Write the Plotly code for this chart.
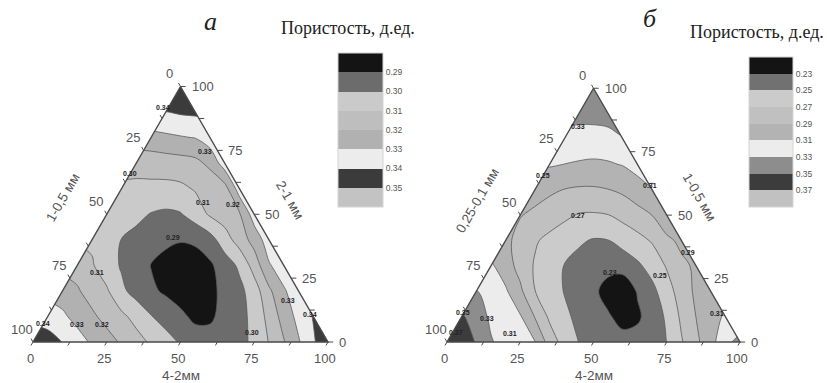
import math
import plotly.graph_objects as go

W, H_FIG = 827, 383
SQ = math.sqrt(3) / 2

# ---------------- data ----------------
# Porosity (fraction units).
# Row k = share of the apex component T = 0,10,...,100 ;
# values along the row at horizontal positions X = T/2 ... 100-T/2, step 5.
POR_A_ROWS = [
    [0.347, 0.3435, 0.3398, 0.3341, 0.3286, 0.3237, 0.3188, 0.3137, 0.3086, 0.3037, 0.2990,
     0.2945, 0.2935, 0.2950, 0.2980, 0.3015, 0.3105, 0.3193, 0.3290, 0.3388, 0.347],
    [0.3362, 0.3317, 0.3268, 0.3217, 0.3169, 0.3122, 0.3067, 0.3005, 0.2961, 0.2919,
     0.2880, 0.2885, 0.2930, 0.2970, 0.3027, 0.3133, 0.3239, 0.3330, 0.3405],
    [0.3254, 0.3210, 0.3162, 0.3112, 0.3021, 0.2963, 0.2917, 0.2885, 0.2860, 0.2855,
     0.2875, 0.2927, 0.2973, 0.3050, 0.3181, 0.3288, 0.3360],
    [0.3164, 0.3109, 0.3048, 0.2990, 0.2944, 0.2897, 0.2870, 0.2858, 0.2858, 0.2885,
     0.2948, 0.3019, 0.3143, 0.3290, 0.3355],
    [0.3085, 0.3040, 0.2998, 0.2970, 0.2945, 0.2918, 0.2905, 0.2915, 0.2960, 0.3055,
     0.3145, 0.3238, 0.3355],
    [0.3070, 0.3050, 0.3025, 0.2995, 0.2982, 0.2993, 0.3047, 0.3113, 0.3148, 0.3190, 0.3350],
    [0.3085, 0.3080, 0.3075, 0.3072, 0.3080, 0.3108, 0.3128, 0.3160, 0.3350],
    [0.3130, 0.3142, 0.3150, 0.3158, 0.3172, 0.3224, 0.3352],
    [0.3265, 0.3280, 0.3292, 0.3303, 0.3355],
    [0.3398, 0.3412, 0.3418],
    [0.347],
]

POR_B_ROWS = [
    [0.372, 0.3607, 0.3486, 0.3314, 0.3240, 0.3175, 0.3109, 0.2814, 0.2622, 0.2497, 0.2440,
     0.2390, 0.2390, 0.2395, 0.2430, 0.2502, 0.2682, 0.2854, 0.3033, 0.3237, 0.338],
    [0.353, 0.3392, 0.3268, 0.3192, 0.3117, 0.2890, 0.2663, 0.2538, 0.2457, 0.2396,
     0.2330, 0.2210, 0.2260, 0.2414, 0.2523, 0.2736, 0.2902, 0.3011, 0.313],
    [0.331, 0.3215, 0.3127, 0.2941, 0.2702, 0.2595, 0.2493, 0.2424, 0.2355, 0.2200,
     0.2120, 0.2320, 0.2447, 0.2609, 0.2798, 0.2935, 0.298],
    [0.313, 0.2996, 0.2828, 0.2681, 0.2586, 0.2495, 0.2440, 0.2395, 0.2380, 0.2395,
     0.2465, 0.2572, 0.2718, 0.2872, 0.292],
    [0.295, 0.283, 0.2722, 0.265, 0.2588, 0.2525, 0.2485, 0.2495, 0.256, 0.2634,
     0.2718, 0.287, 0.293],
    [0.291, 0.2859, 0.2800, 0.2741, 0.2685, 0.268, 0.2695, 0.2761, 0.2831, 0.2902, 0.300],
    [0.298, 0.2935, 0.2895, 0.2875, 0.2875, 0.2895, 0.2935, 0.3005, 0.309],
    [0.312, 0.3098, 0.308, 0.307, 0.308, 0.311, 0.318],
    [0.324, 0.322, 0.321, 0.323, 0.329],
    [0.336, 0.337, 0.338],
    [0.345],
]

LEVELS_A = [0.29, 0.30, 0.31, 0.32, 0.33, 0.34, 0.35]
LEVELS_B = [0.23, 0.25, 0.27, 0.29, 0.31, 0.33, 0.35, 0.37]
# band colours from the lowest porosity band to the highest
COLORS_A = ["#141414", "#6c6c6c", "#cacaca", "#bebebe", "#b1b1b1", "#ececec", "#3b3b3b", "#c3c3c3"]
COLORS_B = ["#141414", "#717171", "#cbcbcb", "#c0c0c0", "#b3b3b3", "#ececec", "#8d8d8d", "#3c3c3c", "#c1c1c1"]

# contour-line labels as printed in the figure: (text, share along bottom axis X, apex share T)
LABELS_A = [("0.34", 44.1, 91.8), ("0.33", 58.3, 74.7), ("0.30", 32.9, 65.8),
            ("0.31", 57.6, 54.5), ("0.32", 67.8, 53.7), ("0.29", 47.5, 40.9),
            ("0.31", 21.7, 27.2), ("0.33", 86.4, 16.3), ("0.34", 93.9, 10.9),
            ("0.34", 3.3, 7.4), ("0.33", 14.9, 7.0), ("0.32", 23.4, 7.0), ("0.30", 74.2, 3.9)]
LABELS_B = [("0.33", 44.7, 85.0), ("0.25", 32.8, 65.7), ("0.31", 69.3, 61.8),
            ("0.27", 44.7, 50.0), ("0.29", 82.3, 35.4), ("0.23", 55.6, 27.2),
            ("0.25", 72.7, 26.4), ("0.35", 5.5, 11.8), ("0.33", 13.7, 9.1),
            ("0.37", 2.9, 3.9), ("0.31", 21.5, 3.5), ("0.31", 92.2, 11.4)]

ROW_T = [0, 10, 20, 30, 40, 50, 60, 70, 80, 90, 100]
COL_X = [5 * i for i in range(21)]
TICKS = [0, 25, 50, 75, 100]
MINOR = [12.5, 37.5, 62.5, 87.5]

PANEL_A = dict(x0=33, x1=328, ybase=342, xd=[0.0, 0.5], xa="x", ya="y",
               bottom="4-2мм", left="1-0,5 мм", right="2-1 мм", letter="а",
               rows=POR_A_ROWS, levels=LEVELS_A, colors=COLORS_A, labels=LABELS_A,
               cb=(338, 53, 154, 45), ttl=(348, 28), let=(210, 22),
               lt=(-44, 17), rt=(36, 14))
PANEL_B = dict(x0=447, x1=740, ybase=342, xd=[0.5, 1.0], xa="x2", ya="y2",
               bottom="4-2мм", left="0,25-0,1 мм", right="1-0,5 мм", letter="б",
               rows=POR_B_ROWS, levels=LEVELS_B, colors=COLORS_B, labels=LABELS_B,
               cb=(749, 57, 150, 44), ttl=(757, 32), let=(650, 18),
               lt=(-43, 15), rt=(33, 18))

HT = 100 * SQ
FONT_SANS = "Liberation Sans, Arial, sans-serif"
FONT_SERIF = "Liberation Serif, Times New Roman, serif"

fig = go.Figure()
annotations = []
layout_axes = {}


def pad_rows(rows):
    grid = []
    for k, row in enumerate(rows):
        grid.append([row[0]] * k + list(row) + [row[-1]] * k)
    return grid


def left_pt(v):
    return 50 - v / 2, HT * (1 - v / 100)


def right_pt(v):
    return 100 - v / 2, HT * v / 100


for p in (PANEL_A, PANEL_B):
    sc = (p["x1"] - p["x0"]) / 100.0  # px per unit
    dom_px0 = p["xd"][0] * W
    dom_px1 = p["xd"][1] * W
    xr = [-(p["x0"] - dom_px0) / sc, (dom_px1 - p["x0"]) / sc]
    bot = H_FIG - p["ybase"]
    yr = [-bot / sc, (H_FIG - bot) / sc]
    xk = "xaxis" if p["xa"] == "x" else "xaxis2"
    yk = "yaxis" if p["ya"] == "y" else "yaxis2"
    layout_axes[xk] = dict(domain=p["xd"], range=xr, visible=False, fixedrange=True,
                           anchor=p["ya"])
    layout_axes[yk] = dict(domain=[0, 1], range=yr, visible=False, fixedrange=True,
                           anchor=p["xa"])

    # The legend runs from low porosity (top) to high (bottom): the field is passed
    # negated so that the colour bar's natural bottom-to-top order is flipped.
    lv = p["levels"]
    step = round(lv[1] - lv[0], 4)
    neg_lv = sorted(-v for v in lv)
    cols = p["colors"][::-1]
    n = len(cols) - 1
    cscale = [[i / n, c] for i, c in enumerate(cols)]
    zgrid = [[-v for v in row] for row in pad_rows(p["rows"])]
    ygrid = [t * SQ for t in ROW_T]
    cbx, cby, cblen, cbth = p["cb"]
    fig.add_trace(go.Contour(
        x=COL_X, y=ygrid, z=zgrid,
        xaxis=p["xa"], yaxis=p["ya"],
        autocontour=False,
        contours=dict(start=neg_lv[0], end=neg_lv[-1], size=step, coloring="fill",
                      showlabels=False),
        colorscale=cscale, zmin=neg_lv[0] - step, zmax=neg_lv[-1] + step,
        line=dict(width=0, smoothing=1.0),
        hoverinfo="skip",
        colorbar=dict(x=cbx / W, xanchor="left", y=1 - cby / H_FIG, yanchor="top",
                      len=cblen, lenmode="pixels", thickness=cbth, thicknessmode="pixels",
                      xpad=0, ypad=0, outlinewidth=1, outlinecolor="#d4d4d4",
                      tickvals=[-v for v in lv], ticktext=[f"{v:.2f}" for v in lv],
                      ticks="",
                      tickfont=dict(size=8.5, color="#555555", family=FONT_SANS)),
    ))
    # contour lines only
    fig.add_trace(go.Contour(
        x=COL_X, y=ygrid, z=zgrid, xaxis=p["xa"], yaxis=p["ya"],
        autocontour=False, showscale=False,
        contours=dict(start=neg_lv[0], end=neg_lv[-1], size=step, coloring="none"),
        line=dict(color="#5a5a5a", width=0.8, smoothing=1.0),
        hoverinfo="skip",
    ))

    # white masks outside the triangle
    for poly in ([(0, 0), (50, HT), (50, HT + 4), (-4, HT + 4), (-4, -0.6), (0, -0.6)],
                 [(100, 0), (50, HT), (50, HT + 4), (104, HT + 4), (104, -0.6), (100, -0.6)]):
        fig.add_trace(go.Scatter(x=[q[0] for q in poly] + [poly[0][0]],
                                 y=[q[1] for q in poly] + [poly[0][1]],
                                 xaxis=p["xa"], yaxis=p["ya"], mode="lines", fill="toself",
                                 fillcolor="white", line=dict(width=0, color="white"),
                                 hoverinfo="skip", showlegend=False))

    # triangle frame
    fig.add_trace(go.Scatter(x=[0, 100, 50, 0], y=[0, 0, HT, 0], xaxis=p["xa"], yaxis=p["ya"],
                             mode="lines", line=dict(color="#4a4a4a", width=1.4),
                             hoverinfo="skip", showlegend=False))

    # ticks
    tl = 4.0 / sc
    tx, ty = [], []
    for v in TICKS + MINOR:
        bx, by = v, 0
        tx += [bx, bx - 0.5 * tl, None]; ty += [by, by - SQ * tl, None]
        lx, ly = left_pt(v)
        tx += [lx, lx - 0.5 * tl, None]; ty += [ly, ly + SQ * tl, None]
        rx, ry = right_pt(v)
        tx += [rx, rx + 1.3 * tl, None]; ty += [ry, ry, None]
    fig.add_trace(go.Scatter(x=tx, y=ty, xaxis=p["xa"], yaxis=p["ya"], mode="lines",
                             line=dict(color="#4a4a4a", width=1), hoverinfo="skip",
                             showlegend=False))

    # contour labels
    lf = dict(size=7, color="#222222", family=FONT_SANS)
    for txt, lx_, lt_ in p["labels"]:
        annotations.append(dict(x=lx_, y=lt_ * SQ, xref=p["xa"], yref=p["ya"],
                                text="<b>" + txt + "</b>",
                                showarrow=False, font=lf, xanchor="center",
                                yanchor="middle"))

    tf = dict(size=13, color="#555555", family=FONT_SANS)
    for v in TICKS:
        annotations.append(dict(x=v, y=0, xref=p["xa"], yref=p["ya"], text=str(v),
                                showarrow=False, xshift=-3, yshift=-16, font=tf,
                                xanchor="center"))
        lx, ly = left_pt(v)
        annotations.append(dict(x=lx, y=ly, xref=p["xa"], yref=p["ya"], text=str(v),
                                showarrow=False, xshift=-11, yshift=13, font=tf,
                                xanchor="center"))
        rx, ry = right_pt(v)
        annotations.append(dict(x=rx, y=ry, xref=p["xa"], yref=p["ya"], text=str(v),
                                showarrow=False, xanchor="left", xshift=9, yshift=0, font=tf))

    af = dict(size=13.5, color="#555555", family=FONT_SANS)
    annotations.append(dict(x=50, y=0, xref=p["xa"], yref=p["ya"], text=p["bottom"],
                            showarrow=False, yshift=-33, font=af, xanchor="center"))
    lx, ly = left_pt(50)
    annotations.append(dict(x=lx, y=ly, xref=p["xa"], yref=p["ya"], text=p["left"],
                            showarrow=False, textangle=-60, xshift=p["lt"][0],
                            yshift=p["lt"][1], font=af, xanchor="center"))
    rx, ry = right_pt(50)
    annotations.append(dict(x=rx, y=ry, xref=p["xa"], yref=p["ya"], text=p["right"],
                            showarrow=False, textangle=60, xshift=p["rt"][0],
                            yshift=p["rt"][1], font=af, xanchor="center"))

    annotations.append(dict(x=p["ttl"][0] / W, y=1 - p["ttl"][1] / H_FIG, xref="paper",
                            yref="paper", text="Пористость, д.ед.", showarrow=False,
                            xanchor="center", yanchor="middle",
                            font=dict(size=18, color="#222222", family=FONT_SERIF)))
    annotations.append(dict(x=p["let"][0] / W, y=1 - p["let"][1] / H_FIG, xref="paper",
                            yref="paper", text="<i>" + p["letter"] + "</i>", showarrow=False,
                            xanchor="center", yanchor="middle",
                            font=dict(size=26, color="#222222", family=FONT_SERIF)))

fig.update_layout(
    width=W, height=H_FIG,
    margin=dict(l=0, r=0, t=0, b=0),
    paper_bgcolor="white", plot_bgcolor="rgba(0,0,0,0)",
    showlegend=False,
    annotations=annotations,
    **layout_axes,
)

fig.write_html("out.html")
